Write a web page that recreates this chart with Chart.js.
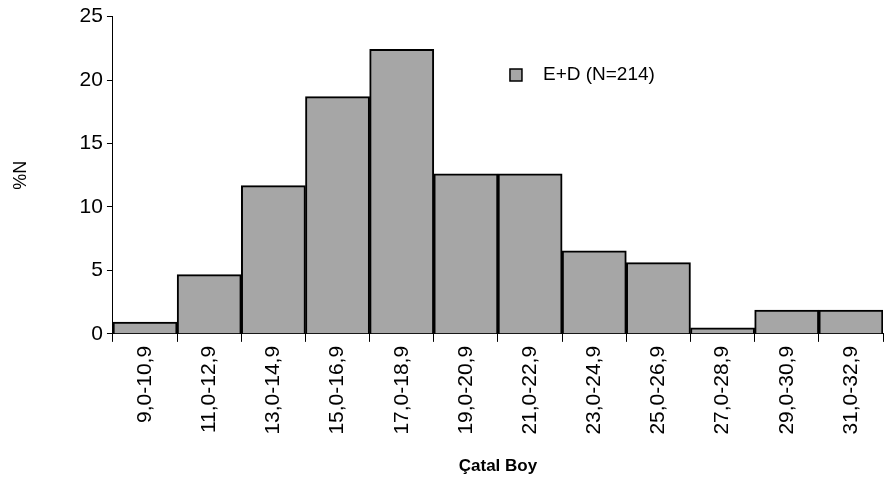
<!DOCTYPE html>
<html>
<head>
<meta charset="utf-8">
<script src="https://cdn.jsdelivr.net/npm/chart.js@4.4.1/dist/chart.umd.min.js"></script>
<style>
  html, body { margin: 0; padding: 0; background: #fff; }
  #wrap { width: 884px; height: 483px; }
</style>
</head>
<body>
<div id="wrap"><canvas id="chart"></canvas></div>
<script>
// Class intervals (Çatal Boy) and percentage of fish (%N)
const categories = ['9,0-10,9', '11,0-12,9', '13,0-14,9', '15,0-16,9', '17,0-18,9', '19,0-20,9',
                    '21,0-22,9', '23,0-24,9', '25,0-26,9', '27,0-28,9', '29,0-30,9', '31,0-32,9'];
const percentN = [0.93, 4.67, 11.68, 18.69, 22.43, 12.62, 12.62, 6.54, 5.61, 0.47, 1.87, 1.87];
const yTicks = [0, 5, 10, 15, 20, 25];
const seriesLabel = 'E+D (N=214)';

const FONT = 'Liberation Sans, Arial, sans-serif';

// Legend drawn inside the plot area, like the original
const insideLegend = {
    id: 'insideLegend',
    afterDraw(chart) {
        const ctx = chart.ctx;
        const x = chart.chartArea.left + 397;
        const y = 75;
        ctx.save();
        ctx.fillStyle = '#a6a6a6';
        ctx.fillRect(x, y - 6, 12, 12);
        ctx.strokeStyle = '#000';
        ctx.lineWidth = 1.5;
        ctx.strokeRect(x, y - 6, 12, 12);
        ctx.fillStyle = '#000';
        ctx.font = '19px ' + FONT;
        ctx.textBaseline = 'middle';
        ctx.fillText(seriesLabel, x + 33, y);
        ctx.restore();
    }
};

new Chart(document.getElementById('chart').getContext('2d'), {
    type: 'bar',
    data: {
        labels: categories,
        datasets: [{
            label: seriesLabel,
            data: percentN,
            backgroundColor: '#a6a6a6',
            borderColor: '#000',
            borderWidth: 2,
            barPercentage: 1,
            categoryPercentage: 1
        }]
    },
    options: {
        responsive: true,
        maintainAspectRatio: false,
        animation: false,
        layout: { padding: { top: 5, right: 1, left: 10, bottom: 6 } },
        plugins: {
            legend: { display: false },
            tooltip: { enabled: false }
        },
        scales: {
            x: {
                grid: { display: true, drawOnChartArea: false, color: '#000', tickLength: 8, lineWidth: 1 },
                border: { color: '#000', width: 1 },
                ticks: {
                    color: '#000',
                    font: { family: FONT, size: 21 },
                    minRotation: 90,
                    maxRotation: 90,
                    padding: 4
                },
                title: {
                    display: true,
                    text: 'Çatal Boy',
                    color: '#000',
                    font: { family: FONT, size: 17, weight: 'bold' },
                    padding: { top: 18, bottom: 0 }
                }
            },
            y: {
                min: 0,
                max: 25,
                afterBuildTicks(axis) { axis.ticks = yTicks.map(v => ({ value: v })); },
                grid: { display: true, drawOnChartArea: false, color: '#000', tickLength: 6 },
                border: { color: '#000', width: 1 },
                ticks: {
                    color: '#000',
                    font: { family: FONT, size: 21 },
                    padding: 4
                },
                title: {
                    display: true,
                    text: '%N',
                    color: '#000',
                    font: { family: FONT, size: 18 },
                    padding: { top: 0, bottom: 44 }
                }
            }
        }
    },
    plugins: [insideLegend]
});
</script>
</body>
</html>
